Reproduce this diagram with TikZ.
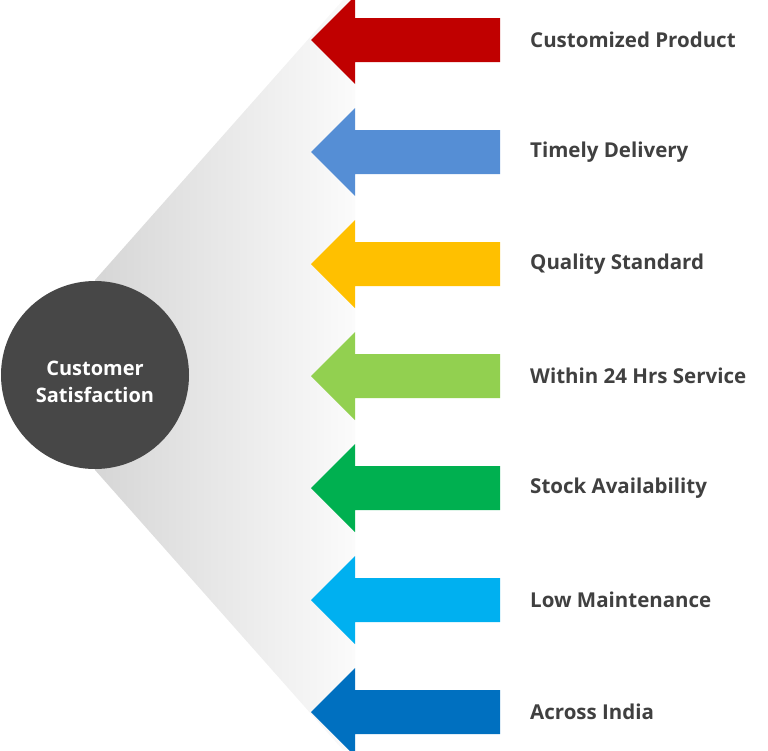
\documentclass[tikz,border=0pt]{standalone}
\usepackage{fontspec}
\setmainfont{Open Sans}
\usepackage{xcolor}
\usetikzlibrary{positioning}
\definecolor{hubgray}{HTML}{474747}
\definecolor{textgray}{HTML}{404040}
\definecolor{fandark}{HTML}{D6D6D6}
\definecolor{fanlight}{HTML}{FBFBFB}
\definecolor{ccred}{HTML}{C00000}
\definecolor{ccblue}{HTML}{558ED5}
\definecolor{ccyellow}{HTML}{FFC000}
\definecolor{cclime}{HTML}{92D050}
\definecolor{ccgreen}{HTML}{00B050}
\definecolor{cccyan}{HTML}{00B0F0}
\definecolor{ccnavy}{HTML}{0070C0}
\tikzstyle{hub} = [circle, minimum size=188pt, inner sep=0pt, fill=hubgray]
\tikzstyle{hubtext} = [text=white, align=center, inner sep=0pt, font=\bfseries\fontsize{20}{27}\selectfont]
\tikzstyle{itemtext} = [anchor=west, inner sep=0pt, text=textgray, font=\bfseries\fontsize{20.5}{24}\selectfont]

\begin{document}
\begin{tikzpicture}[x=1pt, y=-1pt]
    \useasboundingbox (0,0) rectangle (768,750);
    % gray fan behind the arrows
    \shade[left color=fandark, right color=fanlight] (95,280) -- (343,0) -- (355,0) -- (355,750) -- (343,750) -- (95,470) -- cycle;
    \node(hub)[hub] at (95,375) {};
    \node(hubtitle)[hubtext] at ([yshift=-7pt]hub.center) {Customer\\Satisfaction};
    \foreach \i/\col/\txt in {0/ccred/Customized Product, 1/ccblue/Timely Delivery, 2/ccyellow/Quality Standard, 3/cclime/Within 24 Hrs Service, 4/ccgreen/Stock Availability, 5/cccyan/Low Maintenance, 6/ccnavy/Across India}{
        \pgfmathsetmacro{\y}{40+112*\i}
        \fill[\col] (311,\y) -- (355,\y-44) -- (355,\y-22) -- (500,\y-22) -- (500,\y+22) -- (355,\y+22) -- (355,\y+44) -- cycle;
        \node(item\i)[itemtext] at (530,\y) {\txt};
    }
\end{tikzpicture}
\end{document}
